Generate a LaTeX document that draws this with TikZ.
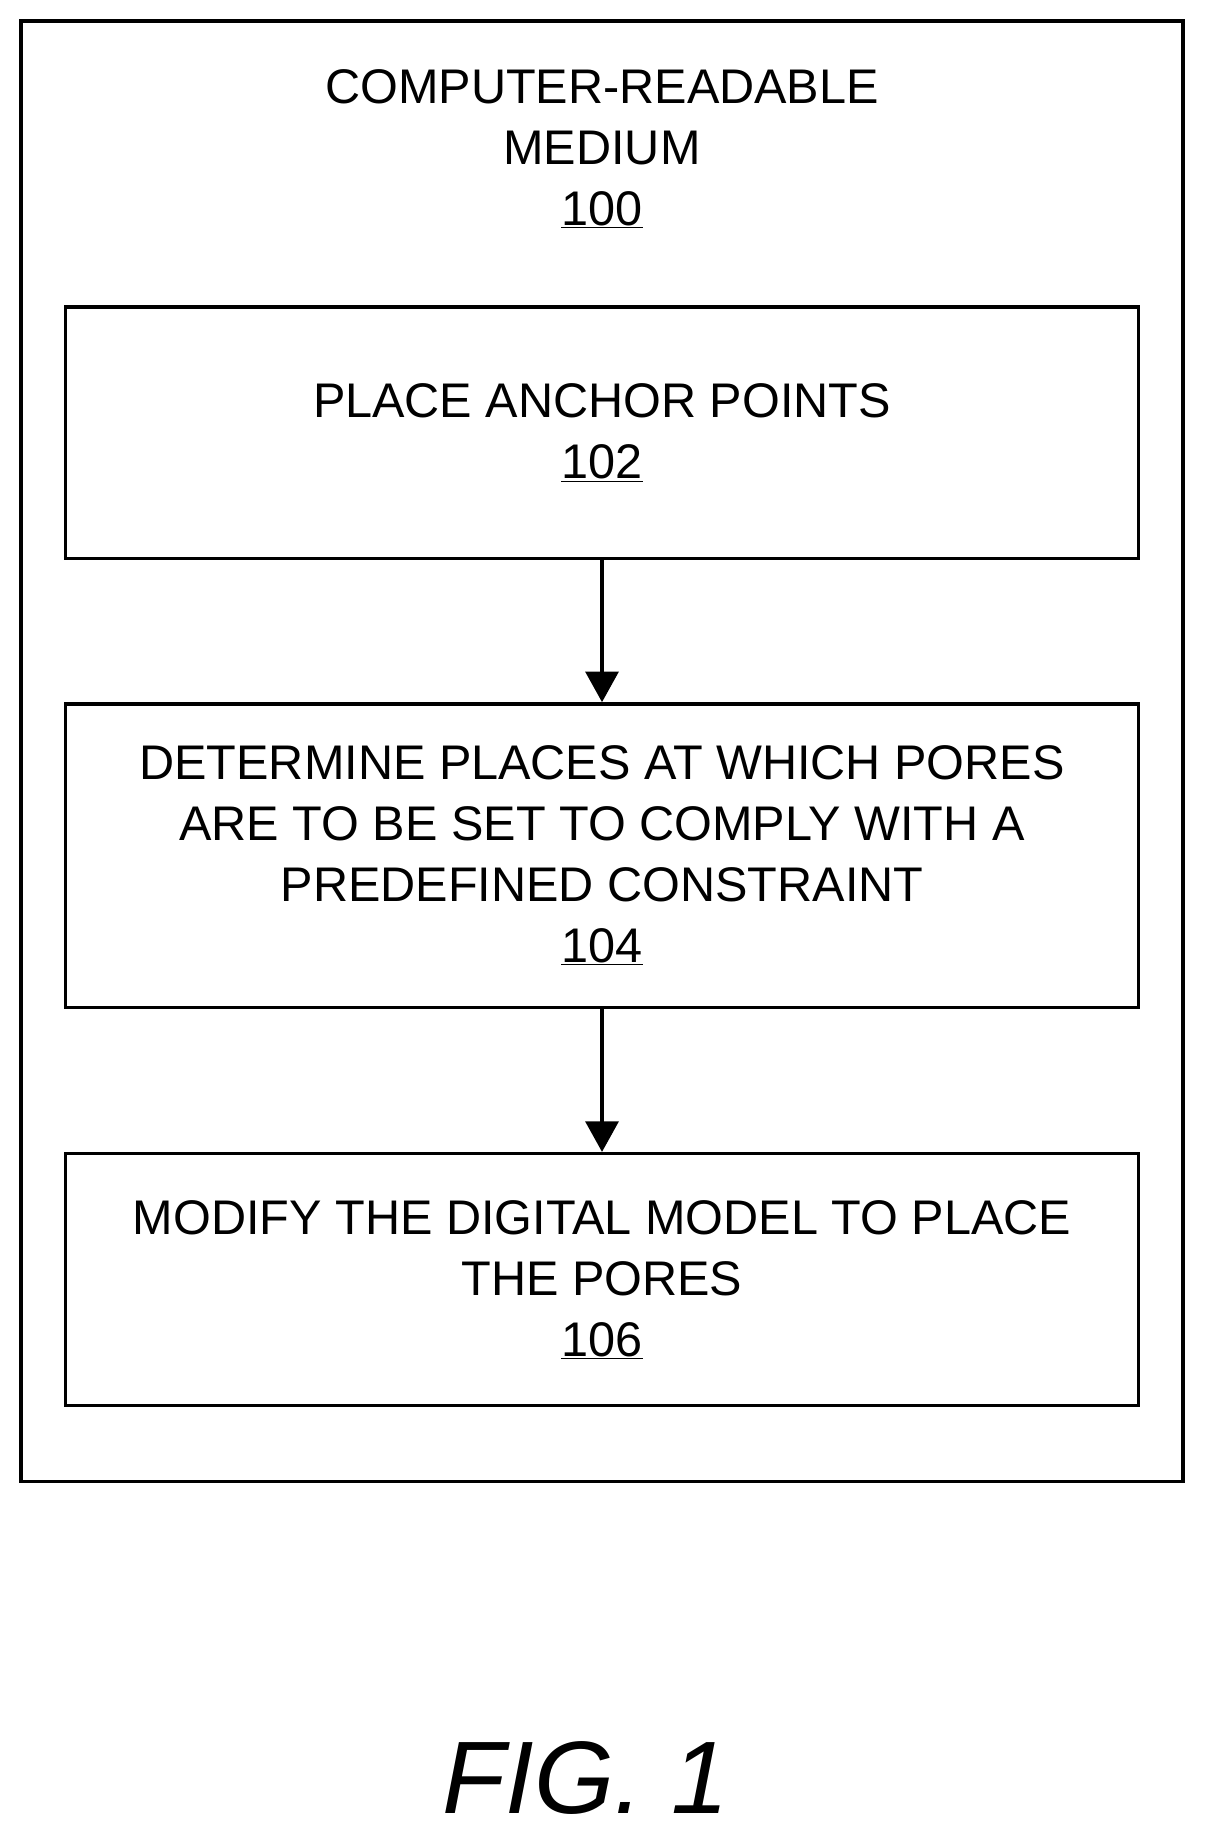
\documentclass[tikz,border=0pt]{standalone}
\usepackage{fontspec}
\setmainfont{Liberation Sans}
\usepackage{tikz}
\usetikzlibrary{positioning,arrows.meta}
\tikzset{
  stage/.style={draw=black,line width=3pt,minimum width=916pt,minimum height=215pt,align=center,font=\fontsize{41.5}{52}\selectfont},
  flow/.style={-{Triangle[length=26pt,width=28pt]},line width=3pt}
}
\begin{document}
\begin{tikzpicture}[x=1pt,y=-1pt]
			\useasboundingbox (0,0) rectangle (1030,1571);
			\node[draw=black,line width=3pt,minimum width=992pt,minimum height=1247pt] (medium) at (514,641.5) {};
			\node[align=center,font=\fontsize{41.5}{52}\selectfont,anchor=north] (title) at (514,56) {COMPUTER-READABLE\\MEDIUM\\\underline{100}};

			\node[stage] (place) at (514,369.5) {PLACE ANCHOR POINTS\\\underline{102}};
			\node[stage,minimum height=259pt] (determine) at (514,730.5) {DETERMINE PLACES AT WHICH PORES\\ARE TO BE SET TO COMPLY WITH A\\PREDEFINED CONSTRAINT\\\underline{104}};
			\node[stage] (modify) at (514,1092.5) {MODIFY THE DIGITAL MODEL TO PLACE\\THE PORES\\\underline{106}};

			\path [flow] (place) edge (determine);
			\path [flow] (determine) edge (modify);

			\node[font=\fontsize{88}{90}\selectfont\itshape] (fig) at (500,1518) {FIG. 1};
		\end{tikzpicture}
\end{document}
